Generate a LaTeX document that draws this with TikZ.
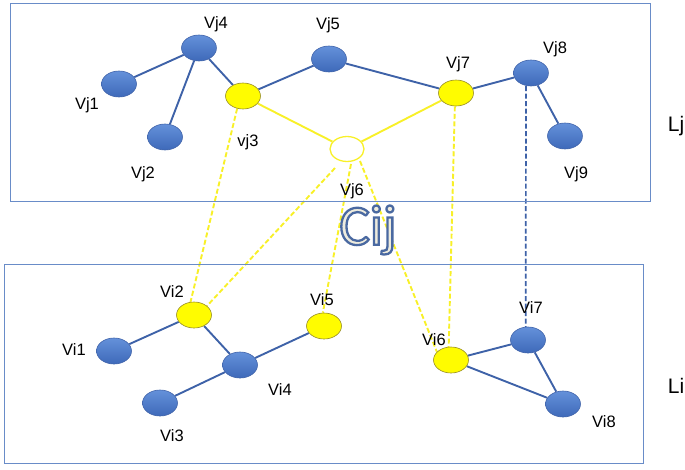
\documentclass[tikz,border=0pt]{standalone}
\usepackage{fontspec}
\setmainfont{Liberation Sans}
\newfontfamily\cijfont{Carlito}
\usetikzlibrary{shapes.geometric,backgrounds}
\definecolor{nodetop}{RGB}{100,145,218}
\definecolor{nodebot}{RGB}{62,105,185}
\definecolor{nodeline}{RGB}{65,100,170}
\definecolor{edgeblue}{RGB}{62,98,168}
\definecolor{boxblue}{RGB}{105,140,200}
\definecolor{ylw}{RGB}{255,252,0}
\definecolor{ylwline}{RGB}{248,240,40}
\definecolor{ylwedge}{RGB}{150,140,40}
\definecolor{cijfill}{RGB}{238,236,222}
\tikzset{
  bnode/.style={ellipse, draw=nodeline, top color=nodetop, bottom color=nodebot, line width=0.6pt, minimum width=35pt, minimum height=26pt, inner sep=0pt},
  ynode/.style={ellipse, draw=ylwedge, fill=ylw, line width=0.6pt, minimum width=35pt, minimum height=26pt, inner sep=0pt},
  wnode/.style={ellipse, draw=ylwline, fill=white, line width=1.3pt, minimum width=34pt, minimum height=25pt, inner sep=0pt},
  lbl/.style={font=\fontsize{16.5}{19}\selectfont, inner sep=0pt, anchor=base},
  big/.style={font=\fontsize{21}{25}\selectfont, inner sep=0pt, anchor=base},
  bedge/.style={draw=edgeblue, line width=1.9pt},
  yedge/.style={draw=ylwline, line width=1.9pt},
  ydash/.style={draw=ylwline, line width=1.9pt, dash pattern=on 5pt off 2.5pt},
  bdash/.style={draw=edgeblue, line width=1.7pt, dash pattern=on 5pt off 2.5pt},
  layer/.style={draw=boxblue, line width=0.9pt, inner sep=0pt}
}
\begin{document}
\begin{tikzpicture}[x=1pt,y=-1pt]
\useasboundingbox (0,0) rectangle (685,469);
% layer boxes
\node[layer, minimum width=640pt, minimum height=198pt] (Lbox) at (330,102) {};
\node[layer, minimum width=639pt, minimum height=199pt] (Ibox) at (323.5,363.5) {};
\node[big] (Lj) at (676,131) {Lj};
\node[big] (Li) at (676,393) {Li};
% Cij (outlined text)
\node[inner sep=0pt, font=\cijfont\fontsize{57}{62}\selectfont] (Cij) at (368,230) {\textcolor{cijfill}{\special{pdf:literal direct 2 Tr 2.3 w 0.29 0.41 0.63 RG}Cij\special{pdf:literal direct 0 Tr}}};
% top nodes
\node[bnode] (vj4) at (199,48) {};
\node[bnode] (vj1) at (119,84) {};
\node[bnode] (vj2) at (165,137) {};
\node[ynode] (vj3) at (243,96) {};
\node[bnode] (vj5) at (329,59) {};
\node[ynode] (vj7) at (456,93) {};
\node[bnode] (vj8) at (531,73) {};
\node[bnode] (vj9) at (565,136) {};
\node[wnode] (vj6) at (347,149) {};
% bottom nodes
\node[ynode] (vi2) at (194,315) {};
\node[bnode] (vi1) at (114,351) {};
\node[bnode] (vi4) at (240,365) {};
\node[bnode] (vi3) at (160,403) {};
\node[ynode] (vi5) at (324,326) {};
\node[ynode] (vi6) at (451,360) {};
\node[bnode] (vi7) at (528,340) {};
\node[bnode] (vi8) at (563,404) {};
% labels (positioned by baseline)
\node[lbl] (lvj4) at (216,28) {Vj4};
\node[lbl] (lvj1) at (87,109) {Vj1};
\node[lbl] (lvj2) at (143,178) {Vj2};
\node[lbl] (lvj3) at (248,146) {vj3};
\node[lbl] (lvj5) at (328,29) {Vj5};
\node[lbl] (lvj7) at (458,68) {Vj7};
\node[lbl] (lvj8) at (555,53) {Vj8};
\node[lbl] (lvj9) at (576,178) {Vj9};
\node[lbl] (lvj6) at (352,195) {Vj6};
\node[lbl] (lvi2) at (172,297) {Vi2};
\node[lbl] (lvi1) at (74,355) {Vi1};
\node[lbl] (lvi4) at (280,395) {Vi4};
\node[lbl] (lvi3) at (172,441) {Vi3};
\node[lbl] (lvi5) at (322,305) {Vi5};
\node[lbl] (lvi6) at (434,345) {Vi6};
\node[lbl] (lvi7) at (531,313) {Vi7};
\node[lbl] (lvi8) at (604,427) {Vi8};
% free ends of dashed connectors below Vj6 / Vj8
\coordinate (a2) at (335,168);
\coordinate (a3) at (351,164);
\coordinate (a4) at (360,161);
\coordinate (a5) at (526,86);
\begin{scope}[on background layer]
% top edges
\draw[bedge] (vj4) -- (vj1);
\draw[bedge] (vj4) -- (vj2);
\draw[bedge] (vj4) -- (vj3);
\draw[bedge] (vj3) -- (vj5);
\draw[bedge] (vj5) -- (vj7);
\draw[bedge] (vj7) -- (vj8);
\draw[bedge] (vj8) -- (vj9);
\draw[yedge] (vj3) -- (vj6);
\draw[yedge] (vj7) -- (vj6);
% bottom edges
\draw[bedge] (vi1) -- (vi2);
\draw[bedge] (vi2) -- (vi4);
\draw[bedge] (vi4) -- (vi3);
\draw[bedge] (vi4) -- (vi5);
\draw[bedge] (vi6) -- (vi7);
\draw[bedge] (vi6) -- (vi8);
\draw[bedge] (vi7) -- (vi8);
% inter-layer
\draw[ydash] (vj3.245) -- (vi2.105);
\draw[ydash] (a2) -- (vi2.35);
\draw[ydash] (a3) -- (vi5.95);
\draw[ydash] (a4) -- (vi6.150);
\draw[ydash] (vj7.265) -- (vi6.100);
\draw[bdash] (a5) -- (vi7.100);
\end{scope}
\end{tikzpicture}
\end{document}
